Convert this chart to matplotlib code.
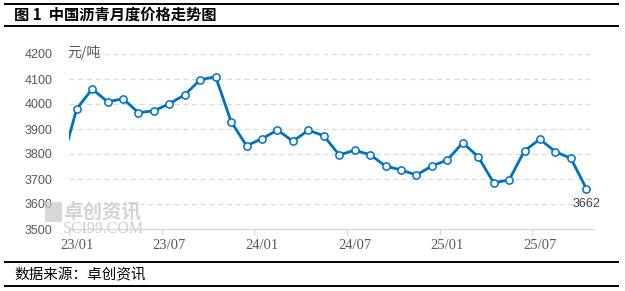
import matplotlib.pyplot as plt
from matplotlib.lines import Line2D
from matplotlib.patches import Rectangle

# monthly asphalt price, Dec 2022 .. Oct 2025 (yuan/ton)
months = ["22/12",
          "23/01", "23/02", "23/03", "23/04", "23/05", "23/06",
          "23/07", "23/08", "23/09", "23/10", "23/11", "23/12",
          "24/01", "24/02", "24/03", "24/04", "24/05", "24/06",
          "24/07", "24/08", "24/09", "24/10", "24/11", "24/12",
          "25/01", "25/02", "25/03", "25/04", "25/05", "25/06",
          "25/07", "25/08", "25/09", "25/10"]
prices = [3757,
          3981, 4060, 4009, 4021, 3965, 3973,
          4001, 4037, 4097, 4109, 3929, 3833,
          3861, 3896, 3851, 3895, 3873, 3796,
          3815, 3797, 3752, 3736, 3716, 3752,
          3776, 3845, 3789, 3685, 3696, 3813,
          3859, 3809, 3783, 3662]
tick_labels = ["23/01", "23/07", "24/01", "24/07", "25/01", "25/07"]
y_ticks = [3500, 3600, 3700, 3800, 3900, 4000, 4100, 4200]

BLUE = "#0070C0"
GREY_TXT = "#595959"
GRID = "#d9d9d9"

fig = plt.figure(figsize=(6.25, 2.91), dpi=100)
ax = fig.add_axes([69 / 625, 62 / 291, 525 / 625, 175 / 291])

# x = months since 2023-01-01, points sit mid-month
xs = [i - 0.5 for i in range(len(prices))]
ax.plot(xs, prices, color=BLUE, lw=2.0, marker="o", ms=5.2,
        mfc="white", mec=BLUE, mew=1.1, zorder=3, clip_on=True)

ax.set_xlim(0, 34)
ax.set_ylim(3500, 4200)
ax.set_yticks(y_ticks)
ax.set_yticklabels([str(v) for v in y_ticks], fontfamily="Liberation Sans",
                   fontsize=9, color=GREY_TXT)
ax.tick_params(axis="y", length=0, pad=12)

ax.set_xticks([0, 6, 12, 18, 24, 30])
ax.set_xticklabels([])
ax.set_xticks([0.5 + 6 * k for k in range(len(tick_labels))], minor=True)
ax.set_xticklabels(tick_labels, minor=True, fontfamily="Liberation Serif",
                   fontsize=10.5, color=GREY_TXT)
ax.tick_params(axis="x", which="major", length=4, color=GRID, width=1)
ax.tick_params(axis="x", which="minor", length=0, pad=7)

for s in ["top", "right", "left"]:
    ax.spines[s].set_visible(False)
ax.spines["bottom"].set_color(GRID)
ax.spines["bottom"].set_linewidth(1)

for v in y_ticks[1:]:
    ax.axhline(v, color=GRID, lw=0.9, ls=(0, (4, 3)), zorder=1)

ax.annotate(str(prices[-1]), (xs[-1], prices[-1]), xytext=(0, -7),
            textcoords="offset points", ha="center", va="top",
            fontfamily="Liberation Sans", fontsize=9, color="#404040")

cjk = ["Noto Sans CJK SC", "DejaVu Sans"]
fig.text(67 / 625, 1 - 52 / 291, "元/吨", fontfamily=cjk, fontsize=10,
         color=GREY_TXT, va="center", ha="left")

# watermark
fig.add_artist(Rectangle((45 / 625, 1 - 222 / 291), 17 / 625, 20 / 291,
                         transform=fig.transFigure, color="#c8c8c8", lw=0, alpha=0.7))
fig.text(63 / 625, 1 - 212 / 291, "卓创资讯", fontfamily=cjk, fontsize=14,
         color="#cfcfcf", va="center", ha="left", fontweight="bold", alpha=0.9)
fig.text(63 / 625, 1 - 229 / 291, "SCI99.COM", fontfamily="Liberation Serif",
         fontsize=11.5, color="#cfcfcf", va="center", ha="left")

# title and footer
fig.text(14 / 625, 1 - 15 / 291, "图 1  中国沥青月度价格走势图", fontfamily=cjk,
         fontsize=11, fontweight="bold", va="center", ha="left", color="black")
fig.text(14 / 625, 1 - 275 / 291, "数据来源：卓创资讯", fontfamily=cjk,
         fontsize=10.5, va="center", ha="left", color="black")

for yy in [4, 26, 262, 286]:
    fig.add_artist(Line2D([5 / 625, 618 / 625], [1 - yy / 291, 1 - yy / 291],
                          transform=fig.transFigure, color="black", lw=1.4))

fig.savefig("out.png", dpi=100)
